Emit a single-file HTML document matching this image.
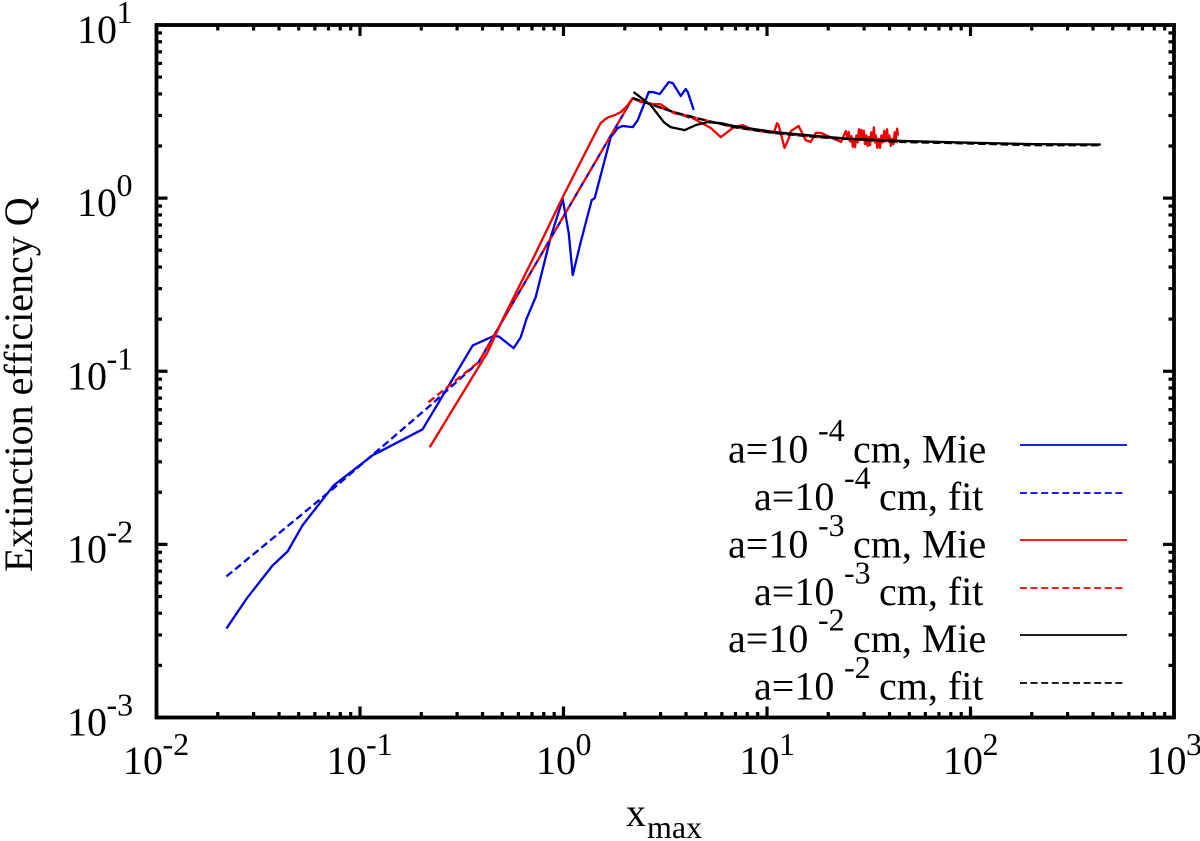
<!DOCTYPE html>
<html lang="en">
<head>
<meta charset="utf-8">
<title>Extinction efficiency Q vs x_max</title>
<style>
html,body{margin:0;padding:0;background:#fff;}
svg{display:block;}
text{font-family:"Liberation Serif",serif;fill:#000;}
.lab{font-size:40px;}
.sup{font-size:32px;}
</style>
</head>
<body>
<svg id="chart" xmlns="http://www.w3.org/2000/svg" width="1200" height="841" viewBox="0 0 1200 841">
  <rect x="0" y="0" width="1200" height="841" fill="#fff"/>
  <g id="ticks"></g>
  <g id="ticklabels"></g>
  <g id="series"></g>
  <rect x="156.5" y="25" width="1017.5" height="692.5" fill="none" stroke="#000" stroke-width="3.8"/>

  <text class="lab" transform="translate(32,572) rotate(-90)">Extinction efficiency Q</text>
  <text class="lab" x="626" y="826">x</text>
  <text class="sup" x="647" y="838">max</text>

  <g>
    <g>
      <text class="lab" x="728" y="462.5">a=10</text>
      <text class="sup" x="818" y="441">-4</text>
      <text class="lab" x="853" y="462.5">cm, Mie</text>
      <line x1="1020" x2="1127" y1="445" y2="445" stroke="#0000e6" stroke-width="1.8"/>
    </g>
    <g>
      <text class="lab" x="754" y="510">a=10</text>
      <text class="sup" x="844" y="488.5">-4</text>
      <text class="lab" x="879" y="510">cm, fit</text>
      <line x1="1020" x2="1126" y1="493" y2="493" stroke="#0000e6" stroke-width="1.8" stroke-dasharray="7 3.6"/>
    </g>
    <g>
      <text class="lab" x="728" y="557.5">a=10</text>
      <text class="sup" x="818" y="536">-3</text>
      <text class="lab" x="853" y="557.5">cm, Mie</text>
      <line x1="1020" x2="1127" y1="540" y2="540" stroke="#f00000" stroke-width="1.8"/>
    </g>
    <g>
      <text class="lab" x="754" y="605">a=10</text>
      <text class="sup" x="844" y="583.5">-3</text>
      <text class="lab" x="879" y="605">cm, fit</text>
      <line x1="1020" x2="1126" y1="588" y2="588" stroke="#f00000" stroke-width="1.8" stroke-dasharray="7 3.6"/>
    </g>
    <g>
      <text class="lab" x="728" y="652">a=10</text>
      <text class="sup" x="818" y="630.5">-2</text>
      <text class="lab" x="853" y="652">cm, Mie</text>
      <line x1="1020" x2="1127" y1="635" y2="635" stroke="#000" stroke-width="1.8"/>
    </g>
    <g>
      <text class="lab" x="754" y="699.5">a=10</text>
      <text class="sup" x="844" y="678">-2</text>
      <text class="lab" x="879" y="699.5">cm, fit</text>
      <line x1="1020" x2="1126" y1="683" y2="683" stroke="#000" stroke-width="1.8" stroke-dasharray="7 3.6"/>
    </g>
  </g>
</svg>
<script>
var xTickExponents = ["-2","-1","0","1","2","3"];
var yTickExponents = ["1","0","-1","-2","-3"];

var blueMieX = [0.02207,0.0280,0.0372,0.0441,0.0522,0.0742,0.1153,0.203,0.358,0.449,0.480,0.569,0.616,0.659,0.730,0.865,0.991,1.061,1.110,1.215,1.376,1.423,1.706,1.847,1.954,2.188,2.316,2.623,2.745,2.971,3.290,3.442,3.769,3.987,4.079,4.366];
var blueMieQ = [0.00327,0.00494,0.00756,0.00911,0.0129,0.0219,0.0327,0.0462,0.141,0.159,0.159,0.136,0.157,0.202,0.268,0.595,0.987,0.628,0.359,0.557,0.974,1.0,2.25,2.54,2.61,2.57,2.82,4.10,4.10,3.99,4.68,4.62,3.89,4.27,4.10,3.23];

var blueFitX = [0.02207,0.0742,0.222,0.383,0.503,1.084,2.188,2.68,3.48,4.366];
var blueFitQ = [0.00653,0.0211,0.0636,0.113,0.197,0.923,3.78,3.49,3.14,2.86];

var redMieX = [0.220,0.424,0.503,0.714,1.002,1.392,1.46,1.523,1.6,1.669,1.8,1.91,2.05,2.188,2.40,2.78,3.00,3.48,4.22,5.29,5.93,6.87,7.61,8.61,10.8,11.2,11.4,12.2,12.8,13.1,14.3,15.5,16.4,17.4,18.4,23.1,24.4,24.8,25.2,25.6,26.0,26.4,26.7,27.1,27.5,27.9,28.3,28.7,29.1,29.5,29.9,30.3,30.8,31.2,31.7,32.1,32.5,33.0,33.5,33.9,34.3,34.8,35.4,35.9,36.5,37.0,37.7,38.4,38.9,39.4,39.9,40.6,41.2,41.8,42.4,43,43.6,44];
var redMieQ = [0.0364,0.129,0.200,0.456,1.04,2.22,2.48,2.71,2.85,2.94,3.03,3.14,3.40,3.78,3.59,3.49,3.49,3.10,2.94,2.54,2.25,2.57,2.64,2.47,2.38,2.71,2.64,1.95,2.22,2.44,2.61,2.16,2.11,2.38,2.38,2.11,2.44,2.25,2.41,2.12,2.28,1.98,2.2,1.97,2.3,2.1,2.5,2.2,2.48,2.22,2.45,2.05,2.3,2.0,2.25,2.02,2.4,2.15,2.56,2.1,2.3,1.95,2.2,1.95,2.3,2.1,2.45,2.2,2.5,2.15,2.3,2.0,2.2,2.05,2.4,2.2,2.52,2.3];

var redFitX = [0.217,0.383,0.503,1.084,2.188,2.68,3.48,4.73,5.93,6.87,10.8,17.8,25.8,44];
var redFitQ = [0.0662,0.113,0.197,0.923,3.78,3.49,3.14,2.86,2.68,2.57,2.38,2.25,2.19,2.11];

var blackMieX = [2.21,2.68,3.11,3.36,3.94,4.46,5.11,5.93,6.87,10.8,17.8,25.8,45.5,97,205,437];
var blackMieQ = [4.10,3.45,2.75,2.57,2.47,2.64,2.75,2.71,2.61,2.41,2.28,2.20,2.14,2.09,2.05,2.04];

var blackFitX = [2.188,2.68,3.48,4.73,5.93,6.87,10.8,17.8,25.8,45.5,97,205,437];
var blackFitQ = [3.78,3.49,3.14,2.86,2.68,2.57,2.38,2.25,2.19,2.11,2.07,2.02,2.02];

var NS = "http://www.w3.org/2000/svg";
var PLOT_LEFT = 156.5, PLOT_RIGHT = 1174, PLOT_TOP = 25, PLOT_BOTTOM = 717.5;
var X_MIN_LOG = -2, X_MAX_LOG = 3, Y_MIN_LOG = -3, Y_MAX_LOG = 1;

function xScale(v) {
  return PLOT_LEFT + (Math.log10(v) - X_MIN_LOG) / (X_MAX_LOG - X_MIN_LOG) * (PLOT_RIGHT - PLOT_LEFT);
}
function yScale(v) {
  return PLOT_BOTTOM - (Math.log10(v) - Y_MIN_LOG) / (Y_MAX_LOG - Y_MIN_LOG) * (PLOT_BOTTOM - PLOT_TOP);
}

var tickGroup = document.getElementById("ticks");
var labelGroup = document.getElementById("ticklabels");
var seriesGroup = document.getElementById("series");

function addTick(x1, y1, x2, y2, major) {
  var t = document.createElementNS(NS, "line");
  t.setAttribute("x1", x1);
  t.setAttribute("y1", y1);
  t.setAttribute("x2", x2);
  t.setAttribute("y2", y2);
  t.setAttribute("stroke", "#000");
  t.setAttribute("stroke-width", "3.2");
  
  
  tickGroup.appendChild(t);
}

function addText(x, y, cls, str, name) {
  var t = document.createElementNS(NS, "text");
  t.setAttribute("x", x);
  t.setAttribute("y", y);
  t.setAttribute("class", cls);
  t.textContent = str;
  
  
  labelGroup.appendChild(t);
}

var MAJOR = 11, MINOR = 5.5;
xTickExponents.forEach(function (e) {
  var p = Number(e);
  var x = xScale(Math.pow(10, p));
  addTick(x, PLOT_BOTTOM, x, PLOT_BOTTOM - MAJOR, true);
  addTick(x, PLOT_TOP, x, PLOT_TOP + MAJOR, true);
  if (p < X_MAX_LOG) {
    for (var m = 2; m <= 9; m++) {
      var xm = xScale(m * Math.pow(10, p));
      addTick(xm, PLOT_BOTTOM, xm, PLOT_BOTTOM - MINOR, false);
      addTick(xm, PLOT_TOP, xm, PLOT_TOP + MINOR, false);
    }
  }
  var negative = e.charAt(0) === "-";
  var baseX = x - (negative ? 33.5 : 27.5);
  addText(baseX, 774, "lab", "10", "x-tick-label-base");
  addText(baseX + 39.5, 755, "sup", e, "x-tick-label-exponent");
});
yTickExponents.forEach(function (e) {
  var p = Number(e);
  var y = yScale(Math.pow(10, p));
  addTick(PLOT_LEFT, y, PLOT_LEFT + MAJOR, y, true);
  addTick(PLOT_RIGHT, y, PLOT_RIGHT - MAJOR, y, true);
  if (p > Y_MIN_LOG) {
    for (var m = 2; m <= 9; m++) {
      var ym = yScale(m * Math.pow(10, p - 1));
      addTick(PLOT_LEFT, ym, PLOT_LEFT + MINOR, ym, false);
      addTick(PLOT_RIGHT, ym, PLOT_RIGHT - MINOR, ym, false);
    }
  }
  var negative = e.charAt(0) === "-";
  var baseX = negative ? 67 : 77;
  addText(baseX, y + 18, "lab", "10", "y-tick-label-base");
  addText(baseX + 39.5, y - 2, "sup", e, "y-tick-label-exponent");
});

function addSeries(xs, qs, color, dashed, name) {
  var pts = xs.map(function (v, i) {
    return xScale(v).toFixed(2) + "," + yScale(qs[i]).toFixed(2);
  }).join(" ");
  var p = document.createElementNS(NS, "polyline");
  p.setAttribute("points", pts);
  p.setAttribute("fill", "none");
  p.setAttribute("stroke", color);
  p.setAttribute("stroke-width", "2.3");
  p.setAttribute("stroke-linejoin", "round");
  if (dashed) p.setAttribute("stroke-dasharray", "7.5 3.8");
  
  
  seriesGroup.appendChild(p);
}

addSeries(blueMieX, blueMieQ, "#0000e6", false, "series-1e-4-mie");
addSeries(blueFitX, blueFitQ, "#0000e6", true, "series-1e-4-fit");
addSeries(redMieX, redMieQ, "#f00000", false, "series-1e-3-mie");
addSeries(redFitX, redFitQ, "#f00000", true, "series-1e-3-fit");
addSeries(blackMieX, blackMieQ, "#000", false, "series-1e-2-mie");
addSeries(blackFitX, blackFitQ, "#000", true, "series-1e-2-fit");
</script>
</body>
</html>
